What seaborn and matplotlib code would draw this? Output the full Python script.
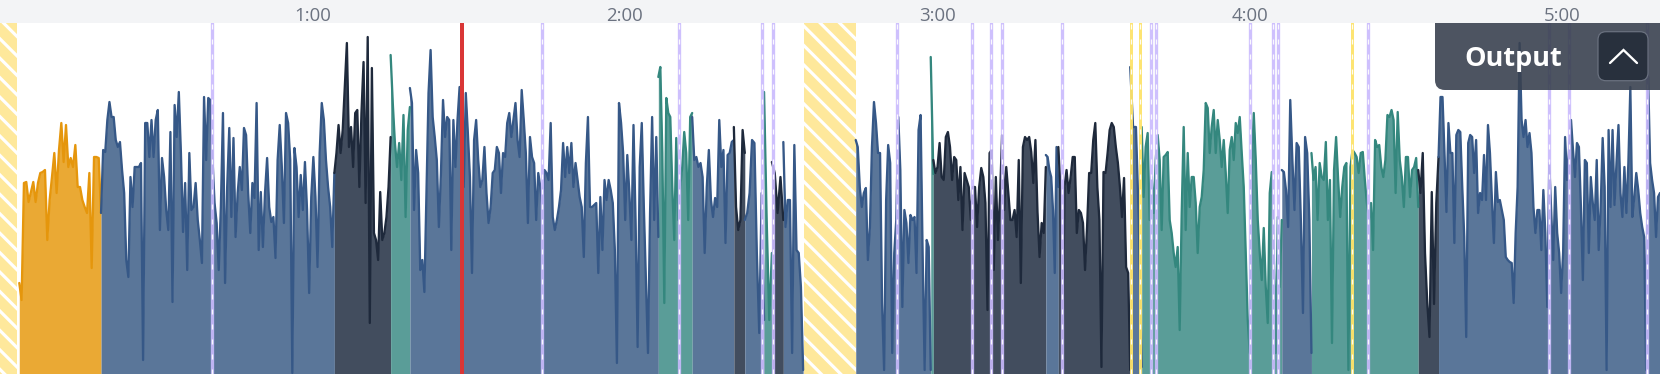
import numpy as np
import matplotlib
matplotlib.use("Agg")
import matplotlib.pyplot as plt
import seaborn as sns
from matplotlib.patches import FancyBboxPatch
from matplotlib.lines import Line2D
from matplotlib.transforms import IdentityTransform

# ---------------- data ----------------
# time axis in seconds, values = activity level (0..351)
tick_secs = [60, 120, 180, 240, 300]
tick_labels = ["1:00", "2:00", "3:00", "4:00", "5:00"]
x_max = 318.72
y_max = 351.3

hatch_starts = [0.0, 154.4]
hatch_ends = [3.3, 164.3]

orange_1 = [91, 74, 191, 192, 172, 182, 192, 172, 191, 201, 202, 204, 134, 174, 197, 221, 181, 224, 251, 212,
            249, 207, 216, 207, 229, 187, 187, 174, 167, 161, 201, 106, 217, 217, 216, 161]
blue_1 = [161, 224, 222, 254, 272, 257, 257, 234, 227, 232, 204, 181, 114, 97, 197, 167, 207, 207, 207, 211,
          14, 251, 251, 217, 254, 217, 254, 264, 144, 216, 197, 164, 144, 242, 72, 269, 237, 282, 221, 142,
          191, 104, 221, 164, 167, 191, 154, 134, 111,
          277, 214, 276, 274, 216, 171, 151, 104, 167, 261, 91, 187, 246, 157, 236, 137, 181, 207, 184, 246,
          239, 181, 141, 191, 176, 271, 124, 182, 127, 181, 216, 167, 152, 157, 116, 214, 249, 207, 151, 261,
          251, 214, 1, 226, 207, 157, 199, 164, 212, 164, 81, 177, 217, 177, 107, 221, 271, 254, 214, 187,
          167, 127, 201]
dark_1 = [201, 221, 249, 221, 244, 287, 331, 227, 247, 207, 261, 264, 187, 261, 312, 171, 337, 51, 306, 141,
          134, 114, 182, 134, 141, 157, 187, 237]
teal_1 = [319, 271, 231, 207, 231, 194, 259, 157, 244, 267]
blue_2 = [286, 271, 164, 224, 201, 104, 114, 82, 181, 281, 324, 257, 237, 214, 147, 201, 274, 237, 257, 254,
          124, 254, 207, 254, 287, 207, 187, 281, 241, 197, 101, 234, 254, 214, 187, 194, 227, 181, 151, 167,
          201, 204, 227, 221, 181, 221, 217, 251, 261, 237, 254, 271, 234, 217, 284, 254, 221, 151, 237, 217,
          211, 154, 201, 187, 167, 204, 201, 194, 251, 157, 144, 154, 167, 184, 231, 197, 227, 201, 231, 187,
          211, 194, 177, 167, 117, 211, 257, 167, 167, 169, 171, 101, 177, 124, 194, 174, 194, 184, 171, 124,
          11, 271, 251,
          221, 154, 219, 181, 134, 249, 154, 27, 207, 251, 167, 94, 21, 161, 257, 154, 237, 137]
teal_2 = [297, 307, 221, 71, 276, 261, 257, 187, 134, 236, 154, 187, 207, 242, 221, 154, 257, 261]
blue_3 = [257, 214, 217, 207, 211, 197, 121, 187, 224, 174, 157, 176, 167, 254, 207, 224, 131, 219, 221, 232, 234]
dark_2 = [247, 167, 144, 154, 244, 221]
blue_4 = [154, 161, 181, 234, 231, 121, 41, 181, 54]
teal_3 = [282, 154, 54, 121]
dark_3 = [212, 201, 161, 197, 154]
blue_5 = [232, 147, 174, 174, 21, 229, 124, 121, 87, 4]
blue_6 = [234, 227, 187, 167, 181, 186, 114, 147, 227, 272, 251, 221, 221, 71, 4, 174, 229, 211, 21, 121,
          154, 257, 204, 67, 164, 151, 111, 159, 154, 157, 101, 244, 259, 121, 4, 134, 127, 4]
teal_4 = [317, 200]
dark_4 = [214, 201, 207, 231, 197, 194, 237, 242, 227, 194, 217, 214, 174, 207, 144, 201, 194, 187, 154, 187,
          187, 147, 187, 206, 197, 171, 64, 221, 224, 104, 197, 134, 177, 239, 164, 207, 181, 154, 154, 164,
          137, 214, 91, 227, 237, 234,
          237, 222, 191, 234, 162, 117, 151, 141, 207]
blue_7 = [219, 217, 204, 197, 164, 101, 227, 187]
dark_5 = [227, 187, 7, 187, 204, 181, 197, 217, 217, 141, 164, 161, 151, 104, 147, 201, 201, 234, 251, 187,
          154, 7, 202, 201, 221, 244, 251, 247, 227, 211, 187, 157, 196, 107, 101, 4]
blue_8 = [307, 247, 247, 154, 7]
teal_5 = [247, 177, 227, 241, 154, 197, 161, 214, 239, 214, 144, 217, 219, 222, 154, 141, 121, 107, 127, 44,
          161, 247, 144, 221, 167, 197, 197, 171, 121, 167, 177, 204, 271, 266, 221, 247, 264, 221, 254, 234,
          207, 234, 201, 161, 224, 237,
          214, 251, 241, 257, 221, 187, 121, 54, 21, 204, 261, 214, 154, 121, 94, 146, 87, 51, 181, 202,
          121, 21, 157, 87, 154]
blue_9 = [204, 202, 184, 147, 274, 214, 164, 231, 227, 154, 61, 237, 221, 154, 21]
teal_6 = [221, 194, 207, 154, 211, 197, 194, 232, 154, 194, 31, 204, 237, 194, 157, 187, 207, 211, 4, 207,
          224, 221, 217, 201, 221, 222, 194, 171, 154, 171, 124, 234, 227, 229, 207, 197, 214, 259, 257, 264,
          254, 181, 262, 214, 197, 167, 217, 217, 177, 204, 207, 216, 167]
dark_6 = [204, 181, 221, 121, 71, 37, 182, 70, 171, 217]
blue_10 = [217, 277, 277, 221, 162, 251, 221, 221, 131, 239, 244, 242, 187, 137, 37, 231, 239, 237, 201, 234,
           161, 181, 174, 219, 174, 249, 221, 174, 131, 202, 172, 174, 164, 154, 117, 114, 112, 111, 71, 141,
           187, 331, 254, 237, 254, 227, 241, 221, 167, 141, 164, 164, 124, 184, 141, 67, 211, 161, 114, 187,
           141, 121, 81, 121, 237, 194, 224, 254, 224, 197, 231, 227, 167, 94, 214, 211, 121, 197, 171, 154,
           214, 124, 167, 236, 187, 4, 244, 167, 244, 169, 211, 249, 181, 157, 207, 161, 211, 287, 157, 177,
           201, 184, 161, 147, 137, 4, 297, 211, 194, 181, 137, 177, 181]

seg_kinds = ["orange", "blue", "dark", "teal", "blue", "teal", "blue", "dark", "blue", "teal", "dark", "blue",
             "blue", "teal", "dark", "blue", "dark", "blue", "teal", "blue", "teal", "dark", "blue"]
seg_starts = [3.7, 19.4, 64.2, 75.0, 78.7, 126.4, 132.9, 140.9, 143.0, 146.7, 148.2, 150.4,
              164.3, 178.7, 179.2, 200.8, 203.2, 217.0, 219.2, 246.1, 251.8, 272.3, 276.2]
seg_ends = [19.4, 64.2, 75.0, 78.7, 126.4, 132.9, 140.9, 143.0, 146.7, 148.2, 150.4, 154.2,
            178.7, 179.2, 200.8, 203.2, 217.0, 219.2, 246.1, 251.8, 272.3, 276.2, 318.72]
seg_values = [orange_1, blue_1, dark_1, teal_1, blue_2, teal_2, blue_3, dark_2, blue_4, teal_3, dark_3, blue_5,
              blue_6, teal_4, dark_4, blue_7, dark_5, blue_8, teal_5, blue_9, teal_6, dark_6, blue_10]

purple_marks = [40.76, 104.12, 130.43, 146.25, 148.36, 172.17, 186.57, 190.21, 192.33, 203.85, 220.99, 221.89,
                240.0, 244.36, 245.32, 262.6, 297.47, 301.31, 316.28]
yellow_marks = [217.15, 218.88, 259.53]
red_marks = [88.76]

# ---------------- style ----------------
fill_colors = {"orange": "#eaa934", "blue": "#5a7699", "dark": "#424d5e", "teal": "#5a9d98"}
line_colors = {"orange": "#e5960c", "blue": "#365887", "dark": "#1e293b", "teal": "#34877e"}

sns.set_style("white")
plt.rcParams['font.family'] = ['Open Sans', 'DejaVu Sans']
plt.rcParams['hatch.linewidth'] = 1.3
plt.rcParams['lines.scale_dashes'] = False

DPI = 175
W, H = 1660, 374
TOP = 22.7
PT = 72.0 / DPI  # points per pixel

fig = plt.figure(figsize=(W / DPI, H / DPI), dpi=DPI, facecolor='#f3f4f6')
ax = fig.add_axes([0, 0, 1, 1 - TOP / H])
ax.set_facecolor('white')

for a, b in zip(hatch_starts, hatch_ends):
    ax.axvspan(a, b, facecolor='#fee89b', edgecolor='white', hatch='\\\\\\', linewidth=0, zorder=1)

for kind, a, b, vals in zip(seg_kinds, seg_starts, seg_ends, seg_values):
    xs = np.linspace(a, b, len(vals))
    ys = np.asarray(vals, dtype=float)
    ax.fill_between(xs, 0, ys, color=fill_colors[kind], linewidth=0, zorder=2)
    sns.lineplot(x=xs, y=ys, ax=ax, color=line_colors[kind], linewidth=2.3 * PT,
                 sort=False, estimator=None, zorder=3)

for t in purple_marks:
    ax.axvline(t, color='#c9bafd', lw=3.3 * PT, alpha=0.9, zorder=4)
    ax.axvline(t, color='white', lw=1.3 * PT, linestyle=(0, (5 * PT, 10 * PT)), alpha=0.9, zorder=5)
for t in yellow_marks:
    ax.axvline(t, color='#fde36a', lw=3.0 * PT, alpha=0.95, zorder=4)
    ax.axvline(t, color='white', lw=1.3 * PT, linestyle=(0, (5 * PT, 10 * PT)), alpha=0.9, zorder=5)
for t in red_marks:
    ax.axvline(t, color='#d93636', lw=4.0 * PT, zorder=6)

ax.set_xlim(0, x_max)
ax.set_ylim(0, y_max)
for s in ax.spines.values():
    s.set_visible(False)
ax.set_yticks([])
ax.set_ylabel("")
ax.xaxis.tick_top()
ax.set_xticks(tick_secs)
ax.set_xticklabels(tick_labels)
ax.tick_params(axis='x', length=0, pad=-1.0, labelsize=7.7, labelcolor='#6b7280')

# ---------------- "Output" overlay ----------------
idt = IdentityTransform()
box = FancyBboxPatch((1435, H - 90), 300, 120, boxstyle='round,pad=0,rounding_size=10',
                     facecolor='#394150', alpha=0.9, edgecolor='none', transform=idt, zorder=10)
fig.add_artist(box)
box.set_clip_box(ax.bbox)

btn = FancyBboxPatch((1598, H - 80.7), 50, 49, boxstyle='round,pad=0,rounding_size=8',
                     facecolor='#28303d', edgecolor='#6b7280', linewidth=1.2 * PT, transform=idt, zorder=11)
fig.add_artist(btn)
chev = Line2D([1610, 1623.5, 1637], [H - 63, H - 50, H - 63], color='white', lw=2.3 * PT,
              transform=idt, zorder=12, solid_capstyle='round', solid_joinstyle='miter')
fig.add_artist(chev)
fig.text(1513.5 / W, 1 - 66.3 / H, "Output", ha='center', va='baseline', color='white',
         fontsize=11.1, fontweight='bold', zorder=12)

fig.savefig("out.png", dpi=DPI, facecolor=fig.get_facecolor())
